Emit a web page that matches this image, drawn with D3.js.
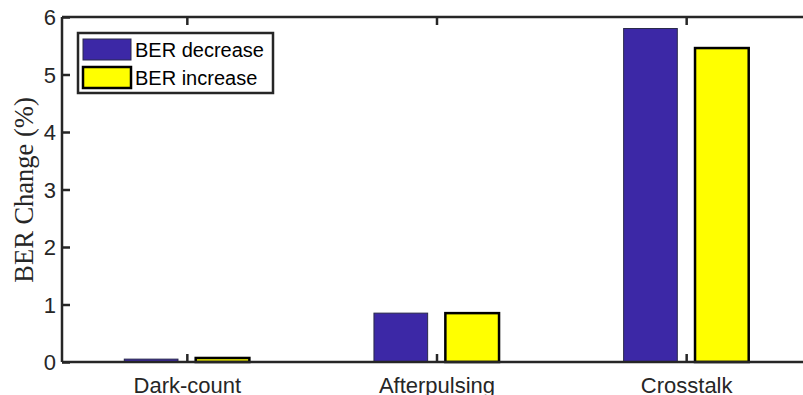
<!DOCTYPE html>
<html><head><meta charset="utf-8">
<script src="https://cdn.jsdelivr.net/npm/d3@7"></script>
<style>body{margin:0;background:#fff;overflow:hidden}svg{display:block}</style>
</head><body>
<svg id="c" width="803" height="395"></svg>
<script>
const categories = ["Dark-count", "Afterpulsing", "Crosstalk"];
const seriesNames = ["BER decrease", "BER increase"];
const berDecrease = [0.05, 0.85, 5.80];
const berIncrease = [0.07, 0.85, 5.46];
const yTicks = [0, 1, 2, 3, 4, 5, 6];

(function () {
const svg = d3.select("#c");
const mL = 62, mR = 811, mT = 17, mB = 362;
const x = d3.scaleLinear().domain([0.5, 3.5]).range([mL, mR]);
const y = d3.scaleLinear().domain([0, 6]).range([mB, mT]);
const axisColor = "#262626";
const fills = ["#3c28a6", "#ffff00"];
const strokes = ["#2a2a4a", "#000000"];
const strokeW = [1, 2.5];
const offsets = [-0.143, 0.143];
const barW = x(1.215) - x(1);

const series = [berDecrease, berIncrease];
series.forEach((vals, s) => {
  svg.append("g").selectAll("rect").data(vals).enter().append("rect")
    .attr("x", (d, i) => x(i + 1 + offsets[s]) - barW / 2)
    .attr("y", d => y(d))
    .attr("width", barW)
    .attr("height", d => y(0) - y(d))
    .attr("fill", fills[s])
    .attr("stroke", strokes[s])
    .attr("stroke-width", strokeW[s]);
});

const fontSans = "'Liberation Sans', Arial, Helvetica, sans-serif";
const gl = svg.append("g").attr("transform", `translate(${mL},0)`)
  .call(d3.axisLeft(y).tickValues(yTicks).tickSize(-8).tickPadding(6).tickFormat(d3.format("d")));
const gr = svg.append("g").attr("transform", `translate(${mR},0)`)
  .call(d3.axisRight(y).tickValues(yTicks).tickSize(-8).tickFormat(""));
const gb = svg.append("g").attr("transform", `translate(0,${mB})`)
  .call(d3.axisBottom(x).tickValues([1, 2, 3]).tickSize(-8).tickPadding(31).tickFormat((d) => categories[d - 1]));
const gt = svg.append("g").attr("transform", `translate(0,${mT})`)
  .call(d3.axisTop(x).tickValues([1, 2, 3]).tickSize(-8).tickFormat(""));
[gl, gr, gb, gt].forEach(g => {
  g.select(".domain").attr("stroke", axisColor).attr("stroke-width", 2.5);
  g.selectAll(".tick line").attr("stroke", axisColor).attr("stroke-width", 2.5);
  g.selectAll("text").attr("fill", axisColor).style("font-family", fontSans).style("font-size", "22px");
});
gl.selectAll(".domain").attr("d", `M0,${mB}V${mT}`);
gb.selectAll(".domain").attr("d", `M${mL},0H${mR}`);
gt.selectAll(".domain").attr("d", `M${mL},0H${mR}`);
gr.selectAll(".domain").attr("d", `M0,${mB}V${mT}`);
gl.selectAll(".tick text").attr("dy", "0.36em");
gb.selectAll(".tick text").attr("dy", "0");

svg.append("text")
  .attr("transform", `translate(33,${190}) rotate(-90)`)
  .attr("text-anchor", "middle")
  .style("font-family", "'Liberation Serif', 'Times New Roman', serif")
  .style("font-size", "26.5px")
  .attr("fill", axisColor)
  .text("BER Change (%)");

const lg = svg.append("g");
lg.append("rect").attr("x", 78).attr("y", 33).attr("width", 195).attr("height", 60)
  .attr("fill", "#fff").attr("stroke", axisColor).attr("stroke-width", 2.5);
seriesNames.forEach((n, i) => {
  const yy = 39 + i * 28;
  lg.append("rect").attr("x", 83).attr("y", yy).attr("width", 48).attr("height", 21)
    .attr("fill", fills[i]).attr("stroke", strokes[i]).attr("stroke-width", strokeW[i]);
  lg.append("text").attr("x", 135).attr("y", yy + 18).text(n)
    .style("font-family", fontSans).style("font-size", "20px").attr("fill", "#000");
});
})();
</script>
</body></html>
